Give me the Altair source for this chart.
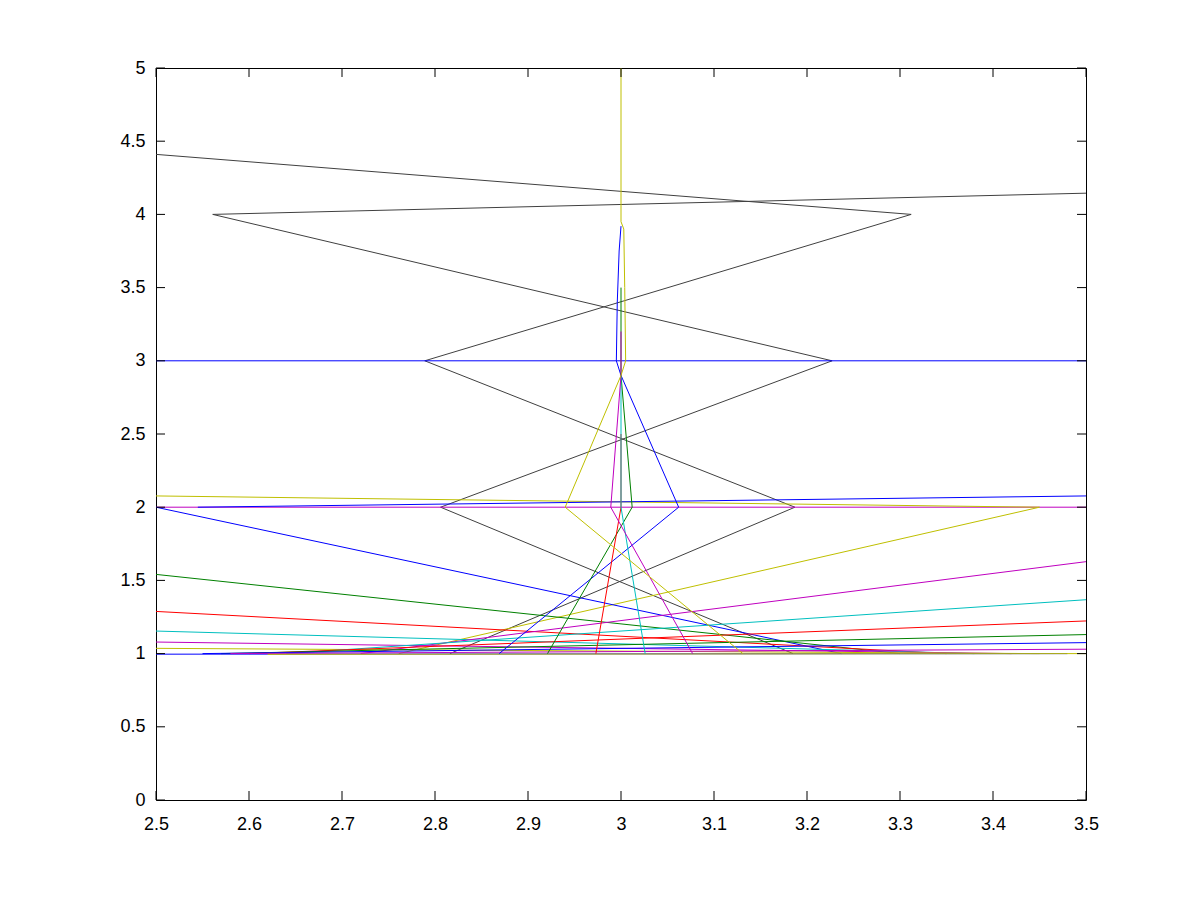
import altair as alt
import pandas as pd

# ---- axis ticks ----
x_ticks = [2.5, 2.6, 2.7, 2.8, 2.9, 3.0, 3.1, 3.2, 3.3, 3.4, 3.5]
y_ticks = [0, 0.5, 1, 1.5, 2, 2.5, 3, 3.5, 4, 4.5, 5]

# ---- series (colour key, x values, y values) ----
# dark zig-zags
k1_x = [2.5, 3.312, 2.789, 3.187, 2.816]
k1_y = [4.41, 4.0, 3.0, 2.0, 1.0]
k2_x = [3.185, 2.806, 3.227, 2.561, 3.5]
k2_y = [1.0, 2.0, 3.0, 4.0, 4.145]

# central columns
bc_x = [2.869, 3.062, 3.0, 2.995, 2.996, 2.998, 3.0]
bc_y = [1.0, 2.0, 2.9, 3.0, 3.4, 3.75, 3.92]
yc_x = [3.131, 2.94, 3.0, 3.005, 3.004, 3.003, 3.0, 3.0]
yc_y = [1.0, 2.0, 2.9, 3.0, 3.5, 3.9, 3.95, 5.0]
gc_x = [2.921, 3.012, 3.0, 3.0]
gc_y = [1.0, 2.0, 2.9, 3.5]
mc_x = [3.077, 2.989, 3.0, 3.0]
mc_y = [1.0, 2.0, 2.9, 3.2]
rc_x = [2.973, 3.0, 3.0]
rc_y = [1.0, 2.0, 2.5]
cc_x = [3.026, 3.0, 3.0]
cc_y = [1.0, 2.0, 2.9]

# long horizontal lines
bh_x = [2.5, 3.5]
bh_y = [3.0, 3.0]
mh_x = [2.5, 3.5]
mh_y = [2.0, 2.0]

# near y = 2
y2_x = [2.5, 3.45, 2.761]
y2_y = [2.077, 2.0, 1.0]
b2_x = [2.545, 3.5]
b2_y = [2.0, 2.077]

# descending fan
bd_x = [2.5, 3.237]
bd_y = [2.0, 1.0]
gd_x = [2.5, 3.30]
gd_y = [1.541, 1.0]
rd_x = [2.5, 3.35]
rd_y = [1.288, 1.0]
cd_x = [2.5, 3.38]
cd_y = [1.154, 1.0]
md_x = [2.5, 3.42]
md_y = [1.079, 1.0]
yd_x = [2.5, 3.45]
yd_y = [1.036, 1.0]
bd2_x = [2.5, 3.48]
bd2_y = [0.996, 1.0]

# rising fan
mr_x = [2.72, 3.5]
mr_y = [1.0, 1.628]
cr_x = [2.64, 3.5]
cr_y = [1.0, 1.368]
rr_x = [2.60, 3.5]
rr_y = [1.0, 1.223]
gr_x = [2.57, 3.5]
gr_y = [1.0, 1.13]
br_x = [2.55, 3.5]
br_y = [1.0, 1.075]
mr2_x = [2.58, 3.5]
mr2_y = [1.0, 1.03]
yr2_x = [2.62, 3.5]
yr2_y = [0.995, 1.0]

series = [
    ("k", k1_x, k1_y), ("k", k2_x, k2_y),
    ("b", bh_x, bh_y), ("m", mh_x, mh_y),
    ("y", y2_x, y2_y), ("b", b2_x, b2_y),
    ("b", bd_x, bd_y), ("g", gd_x, gd_y), ("r", rd_x, rd_y),
    ("c", cd_x, cd_y), ("m", md_x, md_y), ("y", yd_x, yd_y), ("b", bd2_x, bd2_y),
    ("m", mr_x, mr_y), ("c", cr_x, cr_y), ("r", rr_x, rr_y), ("g", gr_x, gr_y),
    ("b", br_x, br_y), ("m", mr2_x, mr2_y), ("y", yr2_x, yr2_y),
    ("b", bc_x, bc_y), ("g", gc_x, gc_y), ("r", rc_x, rc_y),
    ("c", cc_x, cc_y), ("m", mc_x, mc_y), ("y", yc_x, yc_y),
]

rows = []
for sid, (col, xs, ys) in enumerate(series):
    for i, (xv, yv) in enumerate(zip(xs, ys)):
        rows.append({"sid": sid, "col": col, "i": i, "x": xv, "y": yv})
df = pd.DataFrame(rows)

color_keys = ["b", "g", "r", "c", "m", "y", "k"]
color_vals = ["#0000ff", "#008000", "#ff0000", "#00bfbf", "#bf00bf", "#bfbf00", "#404040"]

W, H = 930, 732
FONT = "Liberation Sans"
FS = 18

xs = alt.Scale(domain=[2.5, 3.5], nice=False, zero=False)
ys = alt.Scale(domain=[0, 5], nice=False, zero=False)

lines = alt.Chart(df).mark_line(strokeWidth=1, clip=True).encode(
    x=alt.X("x:Q", scale=xs, title=None,
            axis=alt.Axis(values=x_ticks, format="~g", ticks=False, tickSize=0, domain=False,
                          grid=False, labelFontSize=FS, labelFont=FONT, labelColor="black",
                          labelPadding=15, labelFlush=False, labelOverlap=False)),
    y=alt.Y("y:Q", scale=ys, title=None,
            axis=alt.Axis(values=y_ticks, format="~g", ticks=False, tickSize=0, domain=False,
                          grid=False, labelFontSize=FS, labelFont=FONT, labelColor="black",
                          labelPadding=11, labelFlush=False, labelOverlap=False)),
    color=alt.Color("col:N", scale=alt.Scale(domain=color_keys, range=color_vals), legend=None),
    detail="sid:N",
    order="i:Q",
)

xt = pd.DataFrame({"v": x_ticks})
yt = pd.DataFrame({"v": y_ticks})
TL = 9
xb = alt.Chart(xt).mark_rule(color="black", strokeWidth=1).encode(
    x=alt.X("v:Q", scale=xs), y=alt.value(H), y2=alt.value(H - TL))
xtop = alt.Chart(xt).mark_rule(color="black", strokeWidth=1).encode(
    x=alt.X("v:Q", scale=xs), y=alt.value(0), y2=alt.value(TL))
yl = alt.Chart(yt).mark_rule(color="black", strokeWidth=1).encode(
    y=alt.Y("v:Q", scale=ys), x=alt.value(0), x2=alt.value(TL))
yr = alt.Chart(yt).mark_rule(color="black", strokeWidth=1).encode(
    y=alt.Y("v:Q", scale=ys), x=alt.value(W), x2=alt.value(W - TL))

chart = alt.layer(lines, xb, xtop, yl, yr).properties(
    width=W, height=H,
    autosize=alt.AutoSizeParams(type="none"),
    padding={"left": 148, "top": 60, "right": 106, "bottom": 92},
    background="white",
).configure_view(stroke="black", strokeWidth=1)

chart.save("out.html", embed_options={"renderer": "svg", "actions": False})
